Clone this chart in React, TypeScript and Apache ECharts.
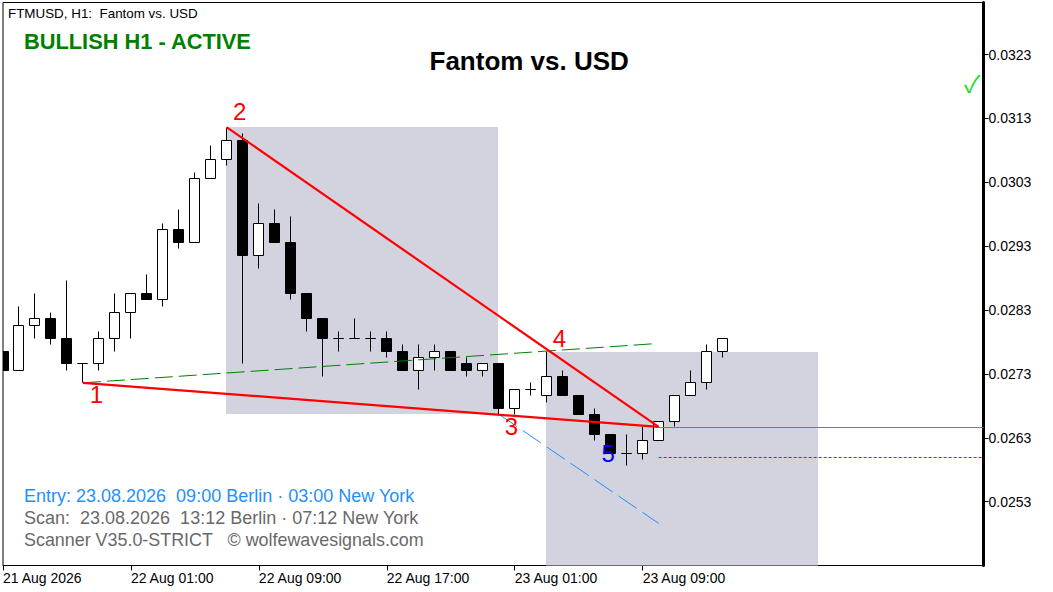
import { useEffect, useRef } from 'react';
import * as echarts from 'echarts';

// candles, one per hour: [open, close, low, high]
const candles = [
  [0.02765, 0.02735, 0.02735, 0.02765],
  [0.02735, 0.02806, 0.02735, 0.02836],
  [0.02806, 0.02816, 0.02786, 0.02856],
  [0.02816, 0.02786, 0.02776, 0.02826],
  [0.02786, 0.02746, 0.02735, 0.02877],
  [0.02746, 0.02746, 0.02716, 0.02746],
  [0.02746, 0.02786, 0.02735, 0.02796],
  [0.02786, 0.02826, 0.02765, 0.02856],
  [0.02826, 0.02856, 0.02786, 0.02856],
  [0.02856, 0.02846, 0.02846, 0.02886],
  [0.02846, 0.02956, 0.02836, 0.02966],
  [0.02956, 0.02936, 0.02926, 0.02987],
  [0.02936, 0.03036, 0.02936, 0.03046],
  [0.03036, 0.03066, 0.03036, 0.03087],
  [0.03066, 0.03096, 0.03056, 0.03116],
  [0.03096, 0.02915, 0.02746, 0.03107],
  [0.02915, 0.02966, 0.02895, 0.02996],
  [0.02966, 0.02936, 0.02936, 0.02987],
  [0.02936, 0.02856, 0.02846, 0.02977],
  [0.02856, 0.02816, 0.02796, 0.02856],
  [0.02816, 0.02786, 0.02726, 0.02816],
  [0.02786, 0.02786, 0.02765, 0.02796],
  [0.02786, 0.02786, 0.02786, 0.02816],
  [0.02786, 0.02786, 0.02765, 0.02796],
  [0.02786, 0.02765, 0.02756, 0.02796],
  [0.02765, 0.02735, 0.02735, 0.02776],
  [0.02735, 0.02756, 0.02706, 0.02776],
  [0.02756, 0.02765, 0.02735, 0.02776],
  [0.02765, 0.02735, 0.02735, 0.02765],
  [0.02746, 0.02735, 0.02726, 0.02756],
  [0.02735, 0.02746, 0.02726, 0.02746],
  [0.02746, 0.02676, 0.02667, 0.02746],
  [0.02676, 0.02706, 0.02667, 0.02706],
  [0.02706, 0.02706, 0.02696, 0.02717],
  [0.02696, 0.02726, 0.02685, 0.02765],
  [0.02726, 0.02696, 0.02696, 0.02735],
  [0.02696, 0.02667, 0.02667, 0.02696],
  [0.02667, 0.02635, 0.02626, 0.02676],
  [0.02635, 0.02605, 0.02605, 0.02635],
  [0.02605, 0.02605, 0.02586, 0.02635],
  [0.02605, 0.02626, 0.02596, 0.02647],
  [0.02626, 0.02656, 0.02626, 0.02656],
  [0.02656, 0.02696, 0.02647, 0.02696],
  [0.02696, 0.02717, 0.02696, 0.02735],
  [0.02717, 0.02765, 0.02706, 0.02776],
  [0.02765, 0.02786, 0.02756, 0.02786],
];

const priceTicks = [0.0253, 0.0263, 0.0273, 0.0283, 0.0293, 0.0303, 0.0313, 0.0323];
const timeTicks = [0, 8, 16, 24, 32, 40];
const timeLabels = ['21 Aug 2026', '22 Aug 01:00', '22 Aug 09:00', '22 Aug 17:00', '23 Aug 01:00', '23 Aug 09:00'];

const priceMin = 0.024301;
const priceMax = 0.033114;
const barMax = 61.3125;

// grey boxes: [from bar, to bar, top price, bottom price]
const boxes = [
  [14, 31, 0.03116, 0.02667],
  [34, 51, 0.02765, priceMin],
];

const lowerLine = [[5, 0.02716], [41, 0.02647]];
const upperLine = [[14, 0.03116], [41, 0.02647]];
const greenLine = [[5, 0.02716], [40.56, 0.02777]];
const targetLine = [[31, 0.02667], [41, 0.02496]];
const entryLine = [[41, 0.026461], [barMax, 0.026461]];
const stopLine = [[41, 0.025992], [barMax, 0.025992]];

// wave numbers: [bar, price, text]
const pivotNumbers: [number, number, string][] = [
  [5.84, 0.02697, '1'],
  [14.8, 0.0314, '2'],
  [31.8, 0.02647, '3'],
  [34.8, 0.02786, '4'],
  [37.85, 0.02606, '5'],
];

const renderBox = (params: any, api: any) => {
  const a = api.coord([api.value(0), api.value(2)]);
  const b = api.coord([api.value(1), api.value(3)]);
  const x = Math.floor(a[0]);
  return {
    type: 'rect',
    shape: { x, y: Math.round(a[1]), width: Math.floor(b[0]) - x, height: Math.round(b[1]) - Math.round(a[1]) },
    style: { fill: '#d3d3e0' },
  };
};

const snap = (v: number) => Math.floor(v) + 0.5;

const renderCandle = (params: any, api: any) => {
  const i = api.value(0);
  const open = api.value(1);
  const close = api.value(2);
  const x = snap(api.coord([i, priceMin])[0]);
  const yOpen = snap(api.coord([i, open])[1]);
  const yClose = snap(api.coord([i, close])[1]);
  const yLow = snap(api.coord([i, api.value(3)])[1]);
  const yHigh = snap(api.coord([i, api.value(4)])[1]);
  const top = Math.min(yOpen, yClose);
  const line = { stroke: '#000', lineWidth: 1 };
  return {
    type: 'group',
    children: [
      { type: 'line', shape: { x1: x, y1: yHigh, x2: x, y2: yLow }, style: line },
      {
        type: 'rect',
        shape: { x: x - 5, y: top, width: 10, height: Math.abs(yOpen - yClose) },
        style: { fill: close >= open ? '#fff' : '#000', stroke: '#000', lineWidth: 1 },
      },
    ],
  };
};

const renderNumber = (params: any, api: any) => {
  const p = api.coord([api.value(0), api.value(1)]);
  const text = pivotNumbers[params.dataIndex][2];
  return {
    type: 'text',
    x: p[0],
    y: p[1],
    style: {
      text,
      fill: text === '5' ? '#0000ff' : '#ff0000',
      font: '24px "Liberation Sans"',
      align: 'center',
      verticalAlign: 'middle',
    },
  };
};

const lineSeries = (data: number[][], color: string, width: number, type: any, z: number) => ({
  type: 'line',
  data,
  z,
  silent: true,
  showSymbol: false,
  clip: true,
  lineStyle: { color, width, type },
});

const textItem = (text: string, x: number, y: number, fill: string, font: string) => ({
  type: 'text',
  x,
  y,
  silent: true,
  style: { text, fill, font, align: 'left', verticalAlign: 'middle' },
});

const App = () => {
  const chartRef = useRef<HTMLDivElement>(null);

  useEffect(() => {
    if (!chartRef.current) return;
    const myChart = echarts.init(chartRef.current, undefined, { renderer: 'svg' });

    const option = {
      animation: false,
      backgroundColor: '#fff',
      grid: {
        show: true,
        left: 2.5,
        top: 2.5,
        width: 981,
        height: 563,
        borderColor: '#000',
        borderWidth: 1,
        backgroundColor: '#fff',
      },
      graphic: [
        textItem('Fantom vs. USD', 429.5, 61, '#000', 'bold 26px "Liberation Sans"'),
        textItem('FTMUSD, H1:  Fantom vs. USD', 8, 13, '#000', '13.4px "Liberation Sans"'),
        textItem('BULLISH H1 - ACTIVE', 24, 41, '#008000', 'bold 21.8px "Liberation Sans"'),
        textItem('Entry: 23.08.2026  09:00 Berlin · 03:00 New York', 24, 496, '#1e90ff', '18px "Liberation Sans"'),
        textItem('Scan:  23.08.2026  13:12 Berlin · 07:12 New York', 24, 518, '#696969', '18px "Liberation Sans"'),
        textItem('Scanner V35.0-STRICT   © wolfewavesignals.com', 24, 540, '#696969', '17.9px "Liberation Sans"'),
        textItem('✓', 964, 82, '#22dd22', '24px "Noto Sans CJK JP"'),
      ],
      xAxis: {
        type: 'value',
        min: 0,
        max: barMax,
        splitLine: { show: false },
        axisLine: { show: true, onZero: false, lineStyle: { color: '#000', width: 1 } },
        axisTick: { show: true, length: 5, customValues: timeTicks, lineStyle: { color: '#000' } },
        axisLabel: {
          customValues: timeTicks,
          formatter: (v: number) => timeLabels[timeTicks.indexOf(v)],
          align: 'left',
          margin: 5,
          color: '#000',
          fontFamily: 'Liberation Sans',
          fontSize: 14,
          showMinLabel: true,
        },
      },
      yAxis: {
        type: 'value',
        position: 'right',
        min: priceMin,
        max: priceMax,
        splitLine: { show: false },
        axisLine: { show: true, onZero: false, lineStyle: { color: '#000', width: 3 } },
        axisTick: { show: true, length: 5, customValues: priceTicks, lineStyle: { color: '#000' } },
        axisLabel: {
          customValues: priceTicks,
          formatter: (v: number) => v.toFixed(4),
          margin: 5,
          padding: [1, 0, 0, 0],
          color: '#000',
          fontFamily: 'Liberation Sans',
          fontSize: 14,
        },
      },
      series: [
        { type: 'custom', renderItem: renderBox, data: boxes, z: 1, silent: true, clip: true },
        {
          type: 'custom',
          renderItem: renderCandle,
          data: candles.map((c, i) => [i, ...c]),
          z: 2,
          silent: true,
          clip: true,
        },
        lineSeries(entryLine, '#1e90ff', 1, 'solid', 3),
        lineSeries(stopLine, '#ff0000', 1, [3, 2], 3),
        lineSeries(greenLine, '#008000', 1, [18, 6], 3),
        lineSeries(targetLine, '#1e90ff', 1, [22, 7], 3),
        lineSeries(lowerLine, '#ff0000', 2.2, 'solid', 4),
        lineSeries(upperLine, '#ff0000', 2.2, 'solid', 4),
        {
          type: 'custom',
          renderItem: renderNumber,
          data: pivotNumbers.map((p) => [p[0], p[1]]),
          z: 5,
          silent: true,
        },
      ],
    };

    myChart.setOption(option);

    return () => {
      myChart.dispose();
    };
  }, []);

  return <div ref={chartRef} style={{ position: 'absolute', left: 0, top: 0, width: '1053px', height: '592px' }} />;
};

export default App;
